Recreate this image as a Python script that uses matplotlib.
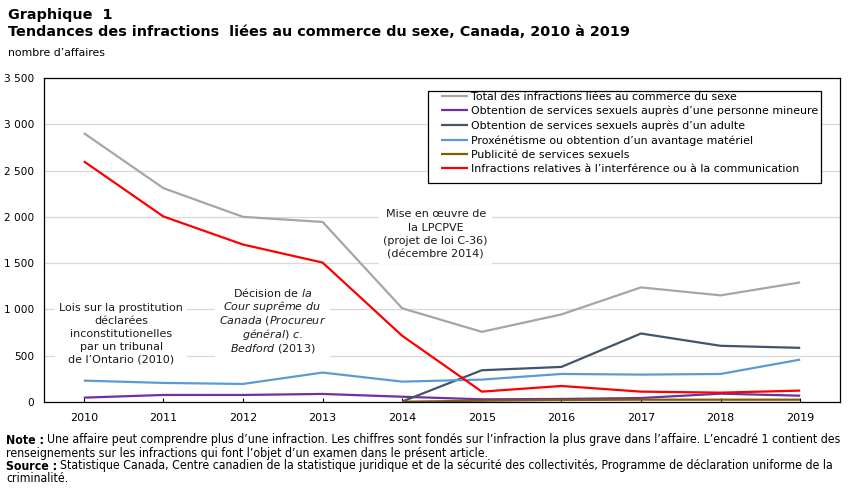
import matplotlib
matplotlib.use("Agg")
import matplotlib.pyplot as plt
from matplotlib.patches import Rectangle
import numpy as np

plt.rcParams['font.family'] = ['DejaVu Sans']
plt.rcParams['mathtext.fontset'] = 'custom'
plt.rcParams['mathtext.rm'] = 'DejaVu Sans'
plt.rcParams['mathtext.it'] = 'DejaVu Sans:italic'

years = [2010, 2011, 2012, 2013, 2014, 2015, 2016, 2017, 2018, 2019]
total = [2905, 2310, 2000, 1945, 1012, 758, 946, 1238, 1152, 1292]
minor = [47, 76, 76, 87, 57, 29, 33, 43, 90, 68]
years_new = [2014, 2015, 2016, 2017, 2018, 2019]
adult = [5, 343, 379, 740, 607, 585]
proxen = [231, 206, 195, 318, 220, 242, 303, 296, 303, 458]
advert = [3, 14, 22, 25, 25, 25]
communic = [2600, 2004, 1701, 1506, 715, 112, 173, 112, 101, 123]

labels = ["Total des infractions liées au commerce du sexe",
          "Obtention de services sexuels auprès d\u2019une personne mineure",
          "Obtention de services sexuels auprès d\u2019un adulte",
          "Proxénétisme ou obtention d\u2019un avantage matériel",
          "Publicité de services sexuels",
          "Infractions relatives à l\u2019interférence ou à la communication"]
colors = ["#A6A6A6", "#7030A0", "#44546A", "#5B9BD5", "#7F6000", "#FF0000"]
yticks = [0, 500, 1000, 1500, 2000, 2500, 3000, 3500]
ytick_labels = ["0", "500", "1 000", "1 500", "2 000", "2 500", "3 000", "3 500"]

W, H = 851, 492
fig = plt.figure(figsize=(W / 100, H / 100), dpi=100)
AX0, AY0, AX1, AY1 = 44, 78, 840, 402
ax = fig.add_axes([AX0 / W, 1 - AY1 / H, (AX1 - AX0) / W, (AY1 - AY0) / H])

def axfrac(px, py):
    return (px - AX0) / (AX1 - AX0), 1 - (py - AY0) / (AY1 - AY0)

series = [(years, total), (years, minor), (years_new, adult),
          (years, proxen), (years_new, advert), (years, communic)]
for (xs, ys), lab, c in zip(series, labels, colors):
    ax.plot(xs, ys, color=c, lw=1.6, label=lab, solid_capstyle='butt')

ax.set_xlim(2009.5, 2019.5)
ax.set_ylim(0, 3500)
ax.set_yticks(yticks)
ax.set_yticklabels(ytick_labels, fontsize=7.6)
ax.set_xticks(years)
ax.set_xticklabels([str(y) for y in years], fontsize=8)
ax.tick_params(axis='y', length=0, pad=7)
ax.tick_params(axis='x', direction='in', length=3, width=0.8, pad=8)
ax.grid(axis='y', color='#D9D9D9', lw=0.9)
ax.set_axisbelow(True)
for s in ax.spines.values():
    s.set_color('black')
    s.set_linewidth(0.9)

# legend frame drawn manually
lx0, ly0 = axfrac(428, 183)
lx1, ly1 = axfrac(821, 91)
ax.add_patch(Rectangle((lx0, ly0), lx1 - lx0, ly1 - ly0, transform=ax.transAxes,
                       facecolor='white', edgecolor='black', lw=0.9, zorder=4))
leg = ax.legend(loc='upper left', bbox_to_anchor=axfrac(441, 91.5),
                fontsize=7.9, frameon=False, handlelength=2.5,
                handletextpad=0.25, labelspacing=0.38, borderpad=0, borderaxespad=0)
leg.set_zorder(6)

bbox = dict(facecolor='white', edgecolor='none', pad=3)
txtc = '#1a1a1a'
afs = 8
ax.text(2010.47, 737, "Lois sur la prostitution\ndéclarées\ninconstitutionelles\npar un tribunal\nde l\u2019Ontario (2010)",
        ha='center', va='center', fontsize=afs, color=txtc, linespacing=1.36, bbox=bbox, zorder=5)
ax.text(2012.37, 877, "Décision de $\\mathit{la}$\n$\\mathit{Cour\\ suprême\\ du}$\n$\\mathit{Canada\\ (Procureur}$\n$\\mathit{général)\\ c.}$\n$\\mathit{Bedford}$ (2013)",
        ha='center', va='center', fontsize=afs, color=txtc, linespacing=1.0, bbox=bbox, zorder=5)
ax.text(2014.42, 1810, "Mise en \u0153uvre de\nla LPCPVE\n(projet de loi C-36)\n(décembre 2014)",
        ha='center', va='center', fontsize=afs, color=txtc, linespacing=1.42, bbox=bbox, zorder=5)

fig.text(8 / W, 1 - 15 / H, "Graphique  1", fontsize=10.4, fontweight='bold', va='center')
fig.text(8 / W, 1 - 32 / H, "Tendances des infractions  liées au commerce du sexe, Canada, 2010 à 2019",
         fontsize=10.4, fontweight='bold', va='center')
fig.text(8 / W, 1 - 53 / H, "nombre d\u2019affaires", fontsize=7.8, va='center')

# notes (condensed face)
fs = 8.8
renderer = fig.canvas.get_renderer()

def ntext(x, y, s, **kw):
    return fig.text(x / W, 1 - y / H, s, fontsize=fs, va='center', fontstretch='condensed', **kw)

def mixed(x, y, bold, rest):
    t = ntext(x, y, bold, fontweight='bold')
    bb = t.get_window_extent(renderer=renderer)
    ntext(bb.x1 + 3, y, rest)

mixed(6, 440, "Note :", "Une affaire peut comprendre plus d\u2019une infraction. Les chiffres sont fondés sur l\u2019infraction la plus grave dans l\u2019affaire. L\u2019encadré 1 contient des")
ntext(6, 453, "renseignements sur les infractions qui font l\u2019objet d\u2019un examen dans le présent article.")
mixed(6, 466, "Source :", "Statistique Canada, Centre canadien de la statistique juridique et de la sécurité des collectivités, Programme de déclaration uniforme de la")
ntext(6, 479, "criminalité.")

fig.savefig("out.png", dpi=100)
